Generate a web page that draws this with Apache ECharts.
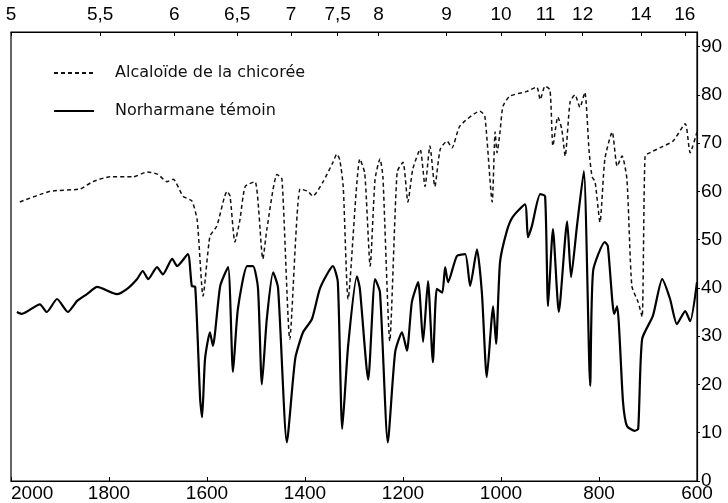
<!DOCTYPE html>
<html>
<head>
<meta charset="utf-8">
<script src="https://cdn.jsdelivr.net/npm/echarts@6/dist/echarts.min.js"></script>
<style>html,body{margin:0;padding:0;background:#fff;}#c{width:728px;height:503px;}</style>
</head>
<body>
<div id="c"></div>
<script>
// Wavenumber (cm-1) and transmission (%)
const alcaloideWn = [1982,1920,1859,1833,1798,1751,1722,1700,1682,1669,1649,1631,1620,1608,1594,1580,1559,1553,1543,1533,1522,1502,1486,1478,1457,1447,1431,1410,1394,1384,1363,1343,1335,1329,1322,1312,1288,1278,1267,1257,1247,1241,1227,1212,1200,1190,1180,1165,1155,1145,1135,1124,1110,1100,1084,1043,1033,1018,1012,1008,1002,996,982,947,927,920,910,900,894,884,876,869,859,849,839,829,820,814,808,798,788,773,763,753,743,733,720,712,706,696,676,649,624,614,600];
const alcaloideT = [57.8,60,60.5,62,63,63,64,63.5,62,62.5,59,58,54,38.3,50.7,52.8,60,59,49.5,54,61,62,46,52,63.5,62.5,29.4,60.5,60,59,62,66,67.7,66.5,61,37.7,66.7,63.7,44.5,62.5,66.7,63,29,64,66,57.8,64.6,68.7,61,69.4,61,68.7,70.4,69,73.5,76.6,75.6,57.8,72.3,68,72.3,77.6,79.7,80.7,81.6,79,81.8,81,69.4,75.4,72.9,67.3,78.5,80,77.4,80.5,68,63,62,53.6,66.7,72.3,65.2,67.3,62.5,40.4,37,34,67.3,68,69,70.4,74,68,72.3];

const norharmaneWn = [1988,1978,1941,1927,1906,1884,1865,1845,1824,1784,1763,1743,1731,1720,1702,1690,1671,1661,1639,1631,1624,1614,1610,1604,1594,1588,1573,1557,1547,1537,1518,1506,1496,1488,1478,1465,1455,1437,1420,1404,1386,1369,1343,1333,1324,1312,1294,1288,1271,1257,1247,1231,1216,1202,1192,1182,1169,1159,1149,1139,1131,1120,1114,1108,1090,1073,1063,1049,1039,1029,1016,1010,1002,988,976,951,945,937,920,910,904,894,882,865,857,845,831,818,812,788,782,769,763,751,743,727,720,712,690,671,655,641,624,614,600];
const norharmaneT = [35,34.6,36.6,35,37.7,35,37.3,38.7,40.2,38.7,39.8,41.8,43.5,41.8,44.3,42.8,46,44.5,47,40.4,40.2,17,13.2,25.3,30.8,28,40.4,44.3,22.6,35.6,44.5,44.5,40,20,33.5,43.2,40,8,25.3,30.8,33.5,40,44.5,41.2,10.8,28,42.4,39.8,21,41.8,39.1,8,26.7,30.8,27,37,41.2,28.8,41.4,24.6,39.8,39,44.3,41.2,46.6,47,40.4,48,39,21.5,36.2,28.4,45.3,51.8,54.7,57.3,50.5,52.8,59.4,59,36.2,52.2,35,53.8,42.2,52.8,64.2,19.7,43.5,49.5,48.7,34.6,36.2,16.4,11.4,10.4,10.8,29.4,34.2,41.8,37.7,32.5,35.2,33.1,41.2];

// Tick labels
const wavenumberTicks = [2000,1800,1600,1400,1200,1000,800,600];
const wavelengthTicks = [5,5.5,6,6.5,7,7.5,8,9,10,11,12,14,16];
const wavelengthLabels = ['5','5,5','6','6,5','7','7,5','8','9','10','11','12','14','16'];
const transTicks = [0,10,20,30,40,50,60,70,80,90];

const seriesNames = ['Alcaloïde de la chicorée', 'Norharmane témoin'];

const zip = (a, b) => a.map((v, i) => [v, b[i]]);
const wlPos = wavelengthTicks.map(w => 10000 / w);

const chart = echarts.init(document.getElementById('c'), null, {renderer: 'canvas'});
const lblFont = {color: '#000', fontFamily: 'Liberation Sans, Arial, sans-serif', fontSize: 19};

chart.setOption({
  animation: false,
  backgroundColor: '#fff',
  grid: {left: 11, right: 31, top: 32, bottom: 21, show: true, borderColor: '#000', borderWidth: 1.2, backgroundColor: 'transparent'},
  legend: {
    orient: 'vertical', left: 48, top: 60,
    itemWidth: 40, itemHeight: 14, itemGap: 22,
    data: seriesNames,
    itemStyle: {opacity: 0},
    textStyle: {color: '#111', fontSize: 16, fontFamily: 'DejaVu Sans, sans-serif', padding: [0, 0, 0, 16]}
  },
  xAxis: [
    {
      type: 'value', min: 600, max: 2000, interval: 200, inverse: true, position: 'bottom',
      axisLine: {show: true, lineStyle: {color: '#000', width: 1.2}},
      axisTick: {show: true, inside: true, length: 4, lineStyle: {color: '#000'}},
      splitLine: {show: false},
      axisLabel: Object.assign({margin: 3, alignMaxLabel: 'left', formatter: v => String(v)}, lblFont)
    },
    {
      type: 'value', min: 600, max: 2000, inverse: true, position: 'top',
      axisLine: {show: true, lineStyle: {color: '#000', width: 1.2}},
      axisTick: {show: true, inside: true, length: 4, customValues: wlPos, lineStyle: {color: '#000'}},
      splitLine: {show: false},
      axisLabel: Object.assign({margin: 8, customValues: wlPos,
        formatter: function (v) {
          let best = 0, d = 1e9;
          wlPos.forEach((p, i) => { if (Math.abs(p - v) < d) { d = Math.abs(p - v); best = i; } });
          return wavelengthLabels[best];
        }}, lblFont)
    }
  ],
  yAxis: [
    {
      type: 'value', min: 0, max: 93, interval: 10, position: 'right',
      axisLine: {show: true, lineStyle: {color: '#000', width: 1.2}},
      axisTick: {show: true, inside: false, length: 3, lineStyle: {color: '#000'}},
      splitLine: {show: false},
      axisLabel: Object.assign({margin: 4, showMaxLabel: false,
        formatter: v => (transTicks.indexOf(v) >= 0 ? String(v) : '')}, lblFont)
    }
  ],
  series: [
    {
      name: seriesNames[0], type: 'line', xAxisIndex: 0, yAxisIndex: 0,
      data: zip(alcaloideWn, alcaloideT), symbol: 'none', smooth: 0.2,
      lineStyle: {color: '#111', width: 1.5, type: [4, 3]},
      itemStyle: {color: '#111'}
    },
    {
      name: seriesNames[1], type: 'line', xAxisIndex: 0, yAxisIndex: 0,
      data: zip(norharmaneWn, norharmaneT), symbol: 'none', smooth: 0.2,
      lineStyle: {color: '#000', width: 2.2},
      itemStyle: {color: '#000'}
    }
  ]
});
</script>
</body>
</html>
